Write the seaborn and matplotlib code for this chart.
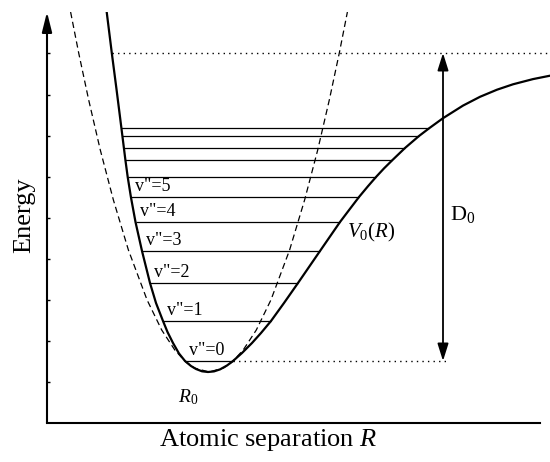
import numpy as np
import pandas as pd
import matplotlib
matplotlib.use("Agg")
import matplotlib.pyplot as plt
import seaborn as sns

# Morse potential V0(R) (arbitrary units)
morse_R = [59.7, 64.8, 69.6, 74.4, 75.4, 76.9, 78.4, 80.7, 83.9, 88.5, 95, 103, 109, 116,
           120.5, 126, 132, 138, 144, 149, 155, 161, 167, 173, 180, 186, 195, 205, 214,
           224, 237, 251, 262, 273, 283, 293, 303, 312, 321, 329, 337, 345.5, 358, 372,
           382.5, 396, 416, 433, 450, 466, 486, 503]
morse_E = [411, 370, 333, 295, 287, 275, 263, 246, 226, 201, 172, 140, 120, 102,
           91, 80, 69.5, 62, 57, 54, 51.7, 51, 51.6, 53.6, 57.5, 62, 70, 80, 90,
           102, 120, 140, 156, 172, 186.5, 201, 214.2, 226, 236.8, 246, 254.6, 263, 275, 287,
           295, 304.8, 317.4, 326.2, 333.3, 338.7, 343.9, 347.3]

# harmonic approximation (dashed)
harm_R = [23.6, 31.7, 41.7, 53.3, 66.4, 81.4, 100.1, 114.7, 127.8, 138.9, 147.4, 162,
          176.6, 185.1, 196.2, 209.3, 223.9, 242.6, 257.6, 270.7, 282.3, 292.3, 300.4]
harm_E = [411, 370, 323, 273, 223, 173, 123, 93, 73, 61, 55, 51,
          55, 61, 73, 93, 123, 173, 223, 273, 323, 370, 411]

# vibrational levels v"=0 .. 10
level_E = [62, 102, 140, 172, 201, 226, 246, 263, 275, 287, 295]
level_left = [138, 116, 103, 95, 88.5, 83.9, 80.7, 78.4, 76.9, 75.4, 74.4]
level_right = [186, 224, 251, 273, 293, 312, 329, 345.5, 358, 372, 382.5]
level_labels = ['v"=0', 'v"=1', 'v"=2', 'v"=3', 'v"=4', 'v"=5']

diss_E = 370      # dissociation limit
D0_R = 396        # where the D0 arrow sits
D0_end_R = 401    # end of lower dotted line
R0 = 161
R_max = 503
E_max = 411
energy_ticks = [41, 82, 123, 164, 205, 246, 287, 328, 370]

sns.set_style("white")
plt.rcParams["font.family"] = ["Liberation Serif", "DejaVu Serif"]
plt.rcParams["mathtext.fontset"] = "custom"
plt.rcParams["mathtext.rm"] = "Liberation Serif"
plt.rcParams["mathtext.it"] = "Liberation Serif:italic"
plt.rcParams["text.color"] = "black"
plt.rcParams["axes.labelcolor"] = "black"
plt.rcParams["ytick.color"] = "black"

fig = plt.figure(figsize=(5.5, 4.62), dpi=100)
ax = fig.add_axes([47/550, 39/462, 503/550, 411/462])

morse = pd.DataFrame({"R": morse_R, "E": morse_E})
harm = pd.DataFrame({"R": harm_R, "E": harm_E})
sns.lineplot(data=harm, x="R", y="E", sort=False, estimator=None, color="black",
             lw=0.9, linestyle=(0, (5, 3)), ax=ax)
sns.lineplot(data=morse, x="R", y="E", sort=False, estimator=None, color="black",
             lw=1.6, ax=ax)

ax.hlines(level_E, level_left, level_right, color="black", lw=0.9)
for i, lab in enumerate(level_labels):
    ax.text(level_left[i] + 4, level_E[i] + 2, lab, fontsize=13, va="bottom")

# dotted reference lines
ax.hlines(diss_E, morse_R[1], R_max, color="black", lw=1, linestyles=[(0, (1, 3))])
ax.hlines(level_E[0], level_right[0], D0_end_R, color="black", lw=1, linestyles=[(0, (1, 3))])

# D0 arrow
ax.annotate("", xy=(D0_R, diss_E), xytext=(D0_R, level_E[0]),
            arrowprops=dict(arrowstyle="<|-|>,head_length=0.7,head_width=0.22",
                            mutation_scale=15, color="black", lw=1.3,
                            shrinkA=0, shrinkB=0))
ax.text(D0_R + 7, 203, r"$\mathrm{D}_0$", fontsize=16, va="baseline")
ax.text(300, 186, r"$\mathit{V_0(R)}$", fontsize=15, va="baseline")
ax.text(R0 - 30, 21, r"$\mathit{R_0}$", fontsize=14, va="baseline")

# energy axis arrow
ax.annotate("", xy=(0, E_max), xytext=(0, 0),
            arrowprops=dict(arrowstyle="-|>,head_length=0.8,head_width=0.2",
                            mutation_scale=15, color="black", lw=1.5,
                            shrinkA=0, shrinkB=0), annotation_clip=False)

ax.set_xlim(0, R_max)
ax.set_ylim(0, E_max)
for s in ["top", "right", "left"]:
    ax.spines[s].set_visible(False)
ax.spines["bottom"].set_linewidth(1.5)
ax.spines["bottom"].set_color("black")
ax.spines["bottom"].set_bounds(0, 493)

ax.set_xticks([])
ax.set_yticks(energy_ticks)
ax.tick_params(axis="y", direction="in", length=2, width=1, left=True, labelleft=False)

ax.set_xlabel(r"Atomic separation $\mathit{R}$", fontsize=19)
ax.xaxis.set_label_coords(0.44, -0.01)
ax.set_ylabel("Energy", fontsize=19)
ax.yaxis.set_label_coords(-0.024, 0.506)

fig.savefig("out.png", dpi=100)
